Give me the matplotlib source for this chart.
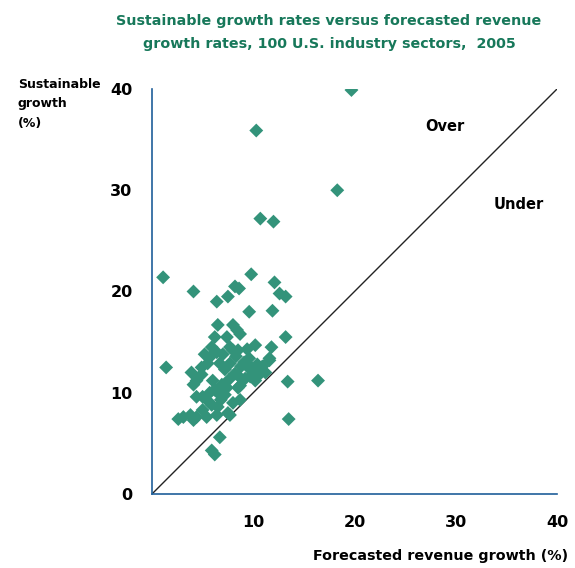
import matplotlib
matplotlib.use("Agg")
import matplotlib.pyplot as plt

# forecasted revenue growth (%) vs sustainable growth (%), 100 sectors
forecast = [
    19.7, 10.3, 18.3, 10.7, 12.0, 1.1, 9.8, 12.1, 4.1, 8.2,
    8.6, 6.4, 7.5, 12.6, 13.2, 9.6, 11.9, 6.5, 8.0, 8.4,
    8.7, 13.2, 6.2, 7.4, 5.9, 7.7, 8.5, 10.2, 11.8, 5.2,
    5.8, 9.6, 11.6, 11.6, 1.4, 6.7, 7.7, 9.4, 10.3, 9.7,
    8.5, 10.2, 13.4, 16.4, 3.9, 4.9, 4.9, 4.1, 4.4, 6.9,
    7.4, 6.2, 5.7, 8.5, 8.7, 4.4, 5.0, 6.5, 7.2, 5.6,
    5.9, 8.7, 13.5, 7.7, 2.6, 3.1, 3.8, 4.1, 4.4, 5.0,
    5.4, 6.5, 6.4, 7.5, 6.7, 5.9, 6.2, 8.0, 8.3, 9.1,
    9.6, 10.0, 10.6, 9.2, 10.0, 6.9, 7.6, 8.2, 7.0, 6.4,
    11.2, 10.4, 7.2, 8.8, 6.0, 9.4, 5.5, 10.9, 8.0, 6.8,
]
sustainable = [
    39.9, 35.9, 30.0, 27.2, 26.9, 21.4, 21.7, 20.9, 20.0, 20.5,
    20.3, 19.0, 19.5, 19.8, 19.5, 18.0, 18.1, 16.7, 16.7, 16.2,
    15.8, 15.5, 15.5, 15.5, 14.5, 14.5, 14.2, 14.7, 14.5, 13.8,
    13.6, 13.4, 13.4, 13.2, 12.5, 12.9, 12.9, 12.9, 12.1, 11.6,
    11.7, 11.2, 11.1, 11.2, 12.0, 12.5, 11.8, 10.8, 11.2, 10.8,
    10.5, 10.3, 10.0, 10.5, 10.7, 9.6, 9.6, 10.0, 9.8, 9.1,
    8.8, 9.3, 7.4, 7.8, 7.4, 7.6, 7.8, 7.3, 7.6, 8.3,
    7.6, 8.6, 7.8, 8.0, 5.6, 4.3, 3.9, 14.2, 13.6, 13.0,
    12.4, 12.0, 11.8, 11.4, 11.6, 9.9, 11.3, 11.9, 13.8, 14.0,
    12.0, 12.8, 12.3, 12.6, 11.2, 14.3, 12.9, 12.6, 9.0, 9.3,
]
ticks = [10, 20, 30, 40]

plt.rcParams["font.family"] = ["DejaVu Sans"]
plt.rcParams["font.weight"] = "bold"

fig = plt.figure(figsize=(5.75, 5.68), dpi=100)
ax = fig.add_axes([0.2643, 0.1303, 0.7044, 0.713])

ax.plot([0, 40], [0, 40], color="#222222", lw=1.0, zorder=1)
ax.scatter(forecast, sustainable, marker="D", s=50, color="#33937a",
           edgecolors="none", zorder=2)

ax.set_xlim(0, 40)
ax.set_ylim(0, 40)
ax.set_xticks(ticks)
ax.set_yticks([0] + ticks)
ax.tick_params(length=0, labelsize=11.5)
ax.tick_params(axis="x", pad=15)
ax.tick_params(axis="y", pad=14)

for side in ["top", "right"]:
    ax.spines[side].set_visible(False)
for side in ["left", "bottom"]:
    ax.spines[side].set_color("#1f5f9a")
    ax.spines[side].set_linewidth(1.2)

ax.text(28.9, 36.3, "Over", ha="center", va="center", fontsize=10.5)
ax.text(36.2, 28.6, "Under", ha="center", va="center", fontsize=10.5)

fig.text(0.572, 0.943, "Sustainable growth rates versus forecasted revenue\n"
         "growth rates, 100 U.S. industry sectors,  2005",
         ha="center", va="center", fontsize=10.3, color="#17785a",
         linespacing=1.75)
fig.text(0.031, 0.863, "Sustainable\ngrowth\n(%)", ha="left", va="top",
         fontsize=9, linespacing=1.65)
fig.text(0.988, 0.021, "Forecasted revenue growth (%)", ha="right", va="center",
         fontsize=10.3)

fig.savefig("out.png", dpi=100)
